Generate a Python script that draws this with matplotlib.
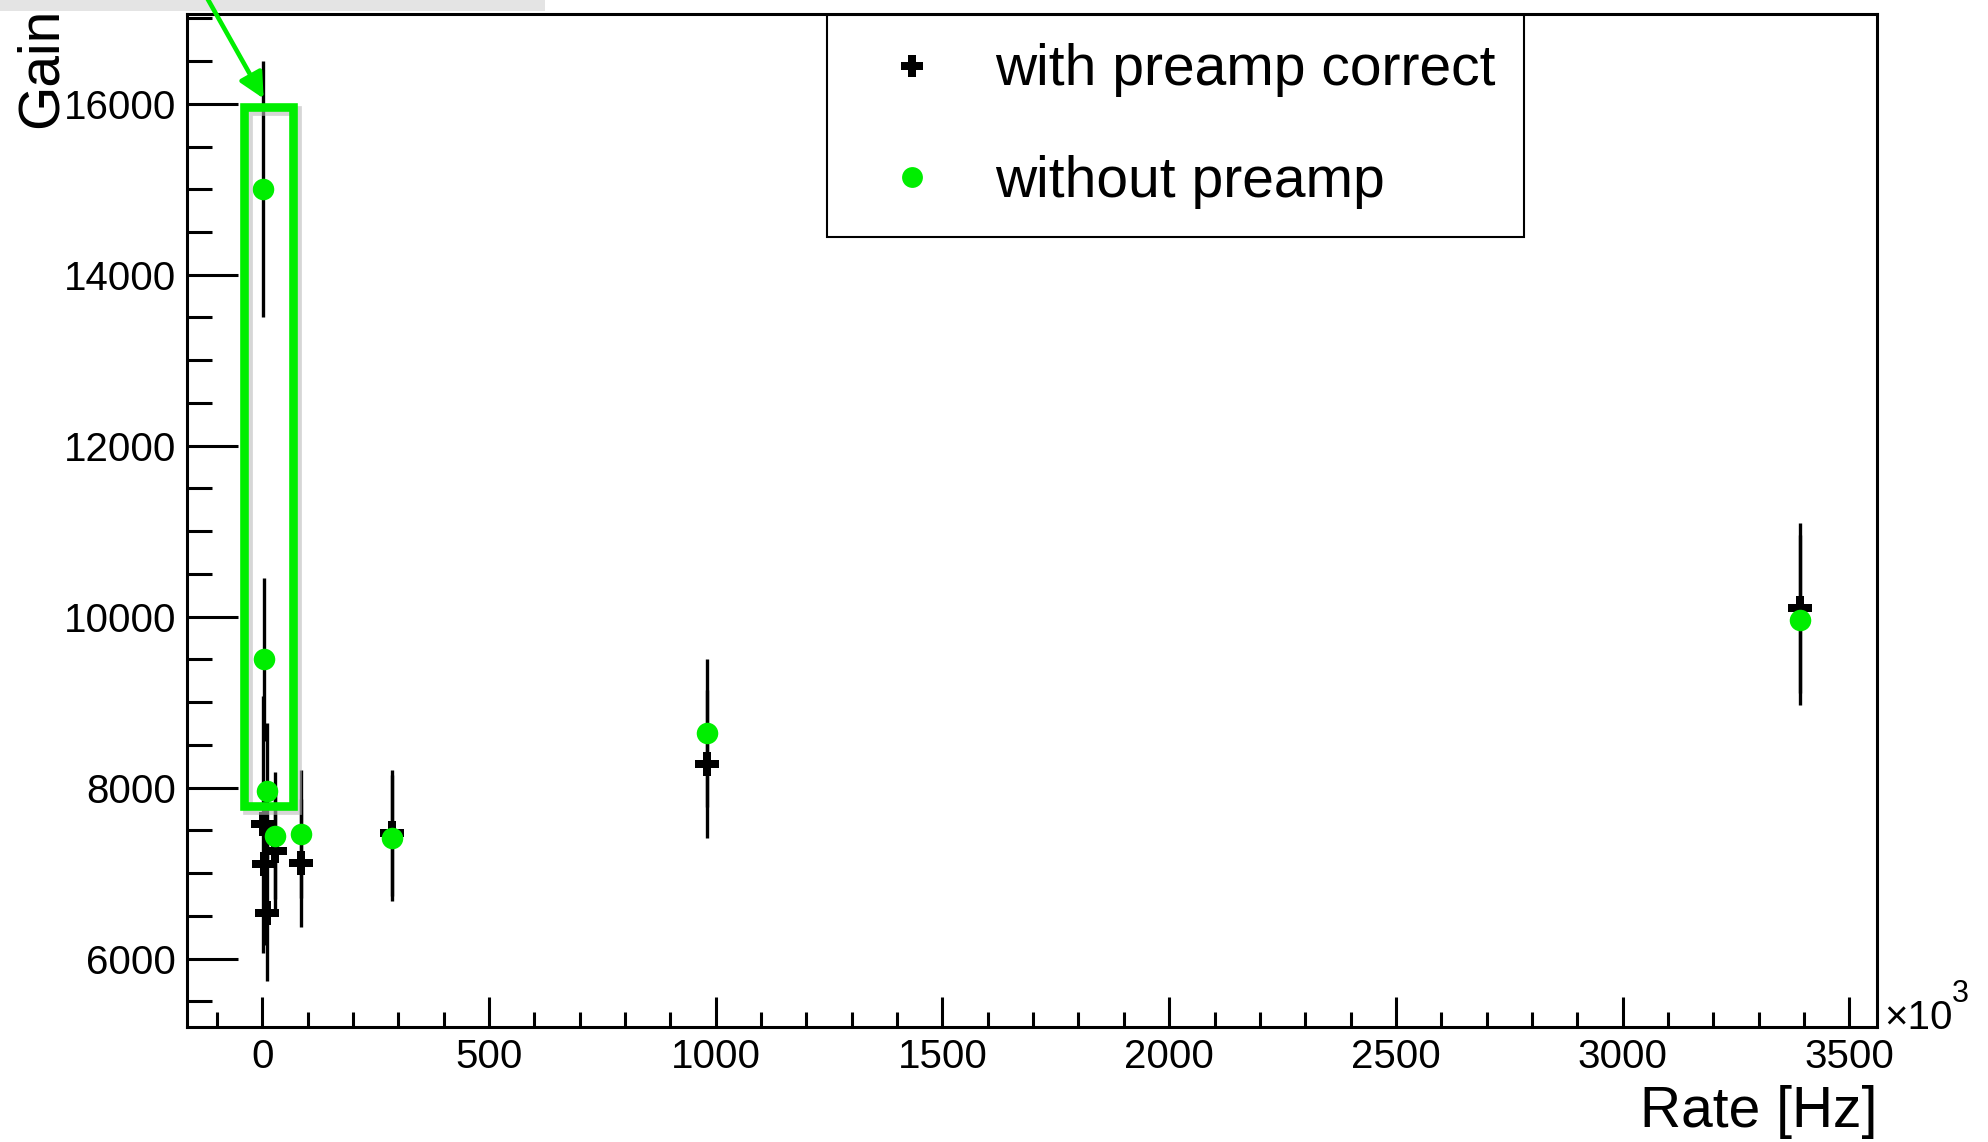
import numpy as np
import matplotlib
matplotlib.use("Agg")
import matplotlib.pyplot as plt
from matplotlib.patches import Rectangle, FancyArrowPatch
from matplotlib.lines import Line2D
from matplotlib.ticker import MultipleLocator

plt.rcParams['font.family'] = ['Liberation Sans', 'DejaVu Sans']

# Data (rate in units of 10^3 Hz)
rate = [1, 3, 10, 28, 85, 286, 981, 3391]
gain_without = [15000, 9500, 7960, 7440, 7460, 7410, 8640, 9960]
gain_with = [7570, 7110, 6530, 7255, 7120, 7470, 8280, 10100]
gain_err = [1500, 950, 796, 744, 746, 741, 864, 996]

labels = ["with preamp correct", "without preamp"]
green = '#00ee00'

W, H = 1988, 1142
fig = plt.figure(figsize=(W / 100, H / 100), dpi=100)
ax = fig.add_axes([187 / W, 1 - 1027 / H, (1877 - 187) / W, (1027 - 14) / H])

def px(x, y):
    # pixel position (from top-left) -> figure fraction
    return x / W, 1 - y / H

# black crosses first, green dots on top
ax.errorbar(rate, gain_with, yerr=gain_err, fmt='P', color='k', ms=17, mew=0,
            ecolor='k', elinewidth=2.4, capsize=3.2, capthick=2.8, zorder=3)
ax.errorbar(rate, gain_without, yerr=gain_err, fmt='o', color=green, ms=15.5, mew=0,
            ecolor='k', elinewidth=2.4, capsize=3.2, capthick=2.8, zorder=4)

ax.set_xlim(-166, 3561)
ax.set_ylim(5200, 17050)

ax.xaxis.set_major_locator(MultipleLocator(500))
ax.xaxis.set_minor_locator(MultipleLocator(100))
ax.yaxis.set_major_locator(MultipleLocator(2000))
ax.yaxis.set_minor_locator(MultipleLocator(500))
ax.tick_params(axis='both', which='both', direction='in', top=False, right=False, width=2.2)
ax.tick_params(axis='x', which='major', length=21.5, labelsize=29, pad=8)
ax.tick_params(axis='x', which='minor', length=10.8)
ax.tick_params(axis='y', which='major', length=36.7, labelsize=29, pad=8)
ax.tick_params(axis='y', which='minor', length=18)
for s in ax.spines.values():
    s.set_linewidth(2.2)

fig.text(*px(1877, 1112), "Rate [Hz]", ha='right', va='center', fontsize=41)
fig.text(*px(42, 8), "Gain", rotation=90, ha='center', va='top', fontsize=41)
fig.text(*px(1884, 1018), "×10", ha='left', va='center', fontsize=29)
fig.text(*px(1952, 994), "3", ha='left', va='center', fontsize=22)

# legend
handles = [Line2D([], [], ls='none', marker='P', color='k', ms=16, mew=0),
           Line2D([], [], ls='none', marker='o', color=green, ms=15, mew=0)]
leg = ax.legend(handles, labels, loc='upper left', fontsize=41,
                bbox_to_anchor=px(827, 15), bbox_transform=fig.transFigure,
                frameon=True, fancybox=False, edgecolor='k', framealpha=1,
                borderaxespad=0, borderpad=0.5, labelspacing=1.01,
                handlelength=2.0, handletextpad=0.45)
leg.get_frame().set_linewidth(1.5)
leg.set_zorder(5)

# grey strip at the top-left (slide edge)
fig.patches.append(Rectangle(px(0, 11), 545 / W, 11 / H, transform=fig.transFigure,
                             color='#e4e4e4', lw=0, zorder=0))

# green highlight box with a soft shadow
bx0, by1 = px(244, 107)
bx1, by0 = px(293, 806)
sx, sy = 4 / W, -4 / H
fig.patches.append(Rectangle((bx0 + sx, by0 + sy), bx1 - bx0, by1 - by0,
                             transform=fig.transFigure, fill=False,
                             ec='#bbbbbb', lw=7, alpha=0.6, zorder=6))
fig.patches.append(Rectangle((bx0, by0), bx1 - bx0, by1 - by0,
                             transform=fig.transFigure, fill=False,
                             ec=green, lw=6.2, zorder=7))

# arrow pointing at the box
arrow = FancyArrowPatch(px(206, -4), px(265, 101), transform=fig.transFigure,
                        arrowstyle='-|>', mutation_scale=38, lw=3.3,
                        color=green, zorder=8)
fig.patches.append(arrow)

fig.savefig("out.png", dpi=100)
